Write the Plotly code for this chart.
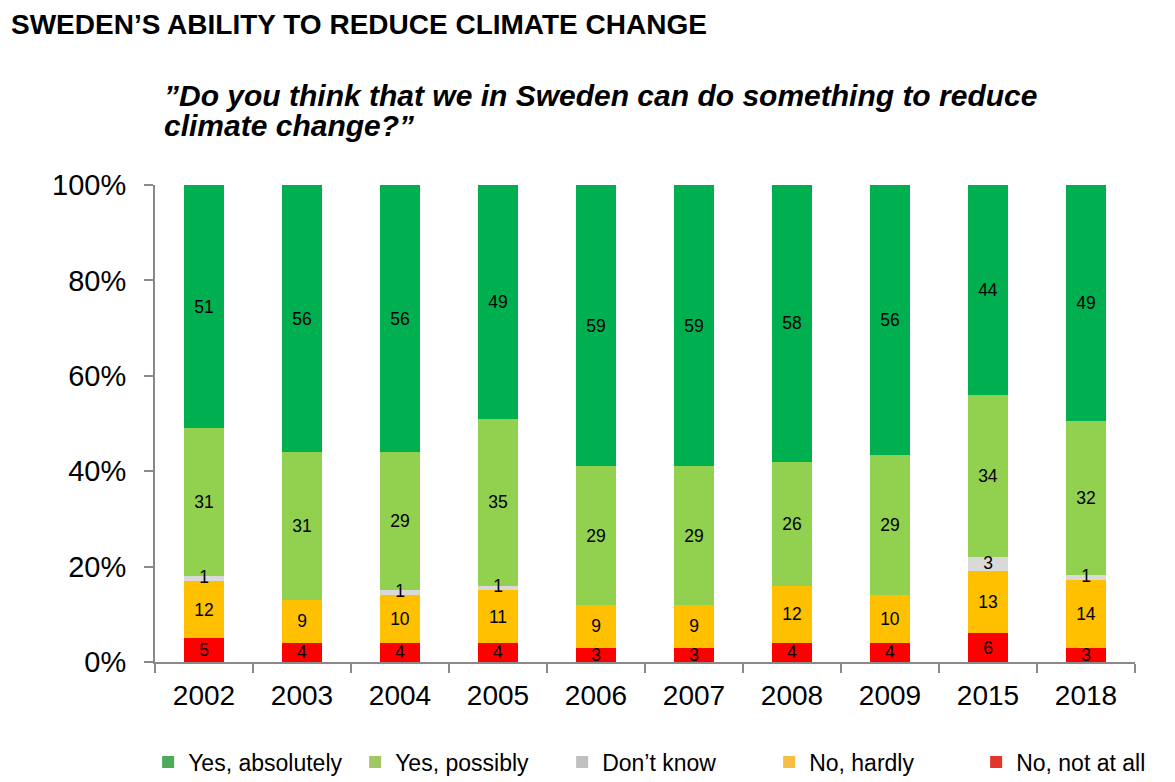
import plotly.graph_objects as go

years = ["2002", "2003", "2004", "2005", "2006", "2007", "2008", "2009", "2015", "2018"]
no_not_at_all = [5, 4, 4, 4, 3, 3, 4, 4, 6, 3]
no_hardly = [12, 9, 10, 11, 9, 9, 12, 10, 13, 14]
dont_know = [1, 0, 1, 1, 0, 0, 0, 0, 3, 1]
yes_possibly = [31, 31, 29, 35, 29, 29, 26, 29, 34, 32]
yes_absolutely = [51, 56, 56, 49, 59, 59, 58, 56, 44, 49]
y_ticks = [0, 20, 40, 60, 80, 100]
y_tick_labels = ["0%", "20%", "40%", "60%", "80%", "100%"]

# name, values, bar colour, legend-swatch colour
series = [
    ("No, not at all", no_not_at_all, "#FF0000", "#E2352B"),
    ("No, hardly", no_hardly, "#FFC000", "#F6BF42"),
    ("Don\u2019t know", dont_know, "#D9D9D9", "#C0C0C0"),
    ("Yes, possibly", yes_possibly, "#92D050", "#A0C862"),
    ("Yes, absolutely", yes_absolutely, "#00B050", "#4CAA5A"),
]

FONT = "Liberation Sans, Arial, sans-serif"

fig = go.Figure()
for name, vals, color, lcolor in series:
    is_dk = name.startswith("Don")
    fig.add_trace(go.Bar(
        x=years, y=vals, name=name, showlegend=False,
        marker=dict(color=color, line=dict(width=0)),
        text=None if is_dk else [str(v) if v > 0 else "" for v in vals],
        textposition="inside",
        insidetextanchor="middle",
        textangle=0,
        constraintext="none",
        textfont=dict(family=FONT, size=17.5, color="#000000"),
        hoverinfo="skip",
    ))

# legend entries (swatches in the legend use slightly muted colours)
for name, vals, color, lcolor in series:
    fig.add_trace(go.Bar(
        x=[None], y=[None], name=name, showlegend=True,
        marker=dict(color=lcolor, line=dict(width=0)), hoverinfo="skip",
    ))

# labels for the thin "Don't know" segments, drawn on top so they are not hidden
totals = [a + b + c + d + e for a, b, c, d, e in zip(no_not_at_all, no_hardly, dont_know, yes_possibly, yes_absolutely)]
dk_mid = [(a + b + c / 2) / t * 100 for a, b, c, t in zip(no_not_at_all, no_hardly, dont_know, totals)]
dk_x = [yr for yr, v in zip(years, dont_know) if v > 0]
dk_y = [m for m, v in zip(dk_mid, dont_know) if v > 0]
dk_t = [str(v) for v in dont_know if v > 0]
fig.add_trace(go.Scatter(
    x=dk_x, y=dk_y, text=dk_t, mode="text", showlegend=False,
    textposition="middle center", cliponaxis=False, hoverinfo="skip",
    textfont=dict(family=FONT, size=17.5, color="#000000"),
))

fig.update_layout(
    barmode="stack",
    barnorm="percent",
    bargap=0.6,
    width=1175, height=782,
    paper_bgcolor="white", plot_bgcolor="white",
    margin=dict(l=147, r=48, t=177, b=128, autoexpand=False),
    font=dict(family=FONT, color="#000000"),
    showlegend=True,
    legend=dict(
        orientation="h", traceorder="reversed",
        x=-0.007, xanchor="left", y=-0.21, yanchor="middle",
        font=dict(family=FONT, size=23, color="#000000"),
        entrywidth=162, entrywidthmode="pixels",
        itemclick=False, itemdoubleclick=False,
    ),
    xaxis=dict(
        showline=True, linecolor="#898989", linewidth=2,
        ticks="outside", tickson="boundaries", ticklen=9, tickcolor="#898989", tickwidth=2,
        tickfont=dict(family=FONT, size=28, color="#000000"),
        ticklabelstandoff=7,
        showgrid=False,
    ),
    yaxis=dict(
        range=[0, 100], tickmode="array", tickvals=y_ticks, ticktext=y_tick_labels,
        showline=True, linecolor="#898989", linewidth=2,
        ticks="outside", ticklen=9, tickcolor="#898989", tickwidth=2,
        tickfont=dict(family=FONT, size=29, color="#000000"),
        ticklabelstandoff=12,
        showgrid=False, zeroline=False,
    ),
    annotations=[
        dict(text="<b>SWEDEN\u2019S ABILITY TO REDUCE CLIMATE CHANGE</b>",
             xref="paper", yref="paper", x=-145/980, y=1 + 177/477,
             xanchor="left", yanchor="top", showarrow=False, borderpad=0,
             font=dict(family=FONT, size=28, color="#000000")),
        dict(text="<b><i>\u201dDo you think that we in Sweden can do something to reduce</i></b>",
             xref="paper", yref="paper", x=7/980, y=1 + 90/477,
             xanchor="left", yanchor="middle", showarrow=False,
             font=dict(family=FONT, size=30, color="#000000")),
        dict(text="<b><i>climate change?\u201d</i></b>",
             xref="paper", yref="paper", x=7/980, y=1 + 59/477,
             xanchor="left", yanchor="middle", showarrow=False,
             font=dict(family=FONT, size=30, color="#000000")),
    ],
)

fig.write_html("out.html")
